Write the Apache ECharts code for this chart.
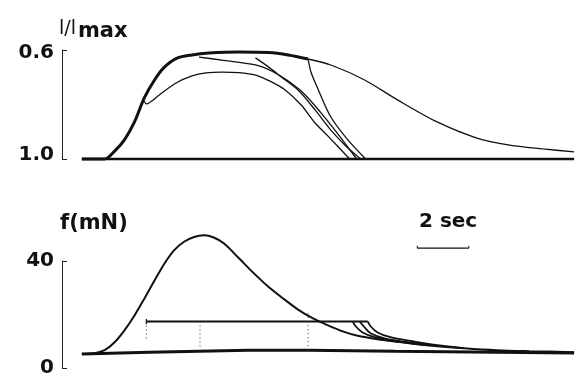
<!DOCTYPE html>
<html><head><meta charset="utf-8">
<script src="https://cdn.jsdelivr.net/npm/echarts@6/dist/echarts.min.js"></script>
<style>html,body{margin:0;padding:0;background:#fff}#c{width:578px;height:378px}</style>
</head><body><div id="c"></div>
<script>
// ---- data (time in s, length as l/lmax, force in mN) ----
const topTicks = [0.6, 1.0];
const botTicks = [0, 40];
const lenBaseline = [[0.77,1.0],[19.85,1.0]];
const lenMain = [[0.77,1.0],[1.65,1.0],[2.04,0.971],[2.42,0.930],[2.81,0.864],[3.19,0.776],[3.58,0.711],[3.96,0.664],[4.46,0.630],[5.04,0.618],[5.69,0.611],[6.85,0.607],[8.0,0.609],[8.77,0.618],[9.54,0.633]];
const lenRelax = [[9.54,0.633],[10.42,0.655],[11.73,0.710],[13.0,0.783],[14.54,0.864],[16.08,0.923],[17.35,0.949],[18.65,0.963],[19.85,0.974]];
const lenA = [[3.19,0.787],[3.27,0.798],[3.77,0.765],[4.42,0.721],[5.04,0.695],[5.58,0.684],[6.19,0.681],[6.85,0.683],[7.50,0.692],[8.12,0.717],[8.65,0.747],[9.27,0.802],[9.81,0.868],[10.31,0.916],[11.15,1.0]];
const lenB = [[5.31,0.626],[6.19,0.637],[7.50,0.655],[8.12,0.677],[8.77,0.714],[9.42,0.764],[10.04,0.831],[10.69,0.908],[11.42,1.0]];
const lenC = [[7.50,0.629],[8.0,0.662],[8.5,0.699],[9.15,0.747],[9.81,0.820],[10.42,0.894],[11.0,0.952],[11.58,1.0]];
const lenD = [[9.54,0.633],[9.65,0.681],[9.92,0.743],[10.42,0.846],[11.08,0.930],[11.77,1.0]];

const forceBaseline = [[0.77,5.19],[3.38,5.9],[7.23,6.67],[9.54,6.67],[12.92,6.3],[16.85,5.93],[19.85,5.6]];
const forceMain = [[0.77,5.19],[1.27,5.56],[1.65,6.67],[2.04,9.63],[2.42,14.07],[2.81,19.63],[3.19,25.93],[3.58,32.59],[3.96,38.89],[4.35,44.07],[4.73,47.2],[5.12,49.0],[5.5,49.6],[5.88,48.8],[6.27,46.6],[6.85,41.11],[7.42,35.56],[8.0,30.37],[8.58,25.93],[9.15,21.85],[9.73,18.52],[10.31,15.93],[10.88,13.70],[11.46,12.04],[12.23,10.74],[13.0,9.81],[14.15,8.52],[15.58,7.41],[16.85,6.67],[18.12,6.30],[19.85,5.93]];
const forceLoad = [[3.27,17.4],[11.85,17.4]];
const forceLoadTick = [[3.27,16.4],[3.27,18.3]];
const forceDrop1 = [[11.27,17.4],[11.38,15.6],[11.65,13.3],[12.12,11.5],[12.88,10.0],[14.27,8.45]];
const forceDrop2 = [[11.54,17.4],[11.73,15.2],[11.96,13.0],[12.5,11.1],[13.38,9.63],[14.27,8.45]];
const forceDrop3 = [[11.85,17.4],[11.96,15.6],[12.23,13.3],[12.73,11.5],[13.58,10.0],[14.54,8.5],[15.58,7.41]];
const markerTimes = [3.27, 5.35, 9.54];
const markerTop = [17.4, 17.4, 20.5];
const markerBottom = [10.0, 7.8, 6.3];
const scaleBarTimes = [13.77, 15.77];   // 2 sec
const scaleBarLevel = 44.8;
const scaleBarTickTop = 45.7;

const FONT = 'DejaVu Sans';
const INK = '#111';

function ln(data, g, w, extra) {
  return Object.assign({
    type: 'line', xAxisIndex: g, yAxisIndex: g, data: data,
    symbol: 'none', showSymbol: false, silent: true, animation: false,
    smooth: 0.3, clip: false,
    lineStyle: { color: INK, width: w }
  }, extra || {});
}

const series = [
  ln(lenBaseline, 0, 2.5, {smooth: false}),
  ln(lenMain, 0, 3),
  ln(lenRelax, 0, 1.3),
  ln(lenA, 0, 1.3),
  ln(lenB, 0, 1.3),
  ln(lenC, 0, 1.3),
  ln(lenD, 0, 1.3),
  ln(forceBaseline, 1, 3, {smooth: false}),
  ln(forceMain, 1, 2),
  ln(forceLoad, 1, 2, {smooth: false}),
  ln(forceLoadTick, 1, 1.2, {smooth: false}),
  ln(forceDrop1, 1, 1.8),
  ln(forceDrop2, 1, 1.8),
  ln(forceDrop3, 1, 1.8),
  ln(scaleBarTimes.map(t => [t, scaleBarLevel]), 1, 1.2, {smooth: false})
];
scaleBarTimes.forEach(t => {
  series.push(ln([[t, scaleBarLevel], [t, scaleBarTickTop]], 1, 1, {smooth: false}));
});
markerTimes.forEach((t, i) => {
  series.push(ln([[t, markerTop[i]], [t, markerBottom[i]]], 1, 1, {smooth: false, lineStyle: {color: '#333', width: 1, type: [1, 3]}}));
});

const labelFont = { fontFamily: FONT, fontWeight: 'bold', fontSize: 20, color: INK };
function yAx(g, min, max, ticks, inverse, fmt, rich) {
  return {
    gridIndex: g, type: 'value', min: min, max: max, inverse: inverse,
    axisLine: { show: true, onZero: false, lineStyle: { color: '#222', width: 1 } },
    axisTick: { show: true, inside: true, length: 5, customValues: ticks, lineStyle: { color: '#222', width: 1 } },
    axisLabel: Object.assign({ customValues: ticks, formatter: fmt, margin: 8, rich: rich || {} }, labelFont),
    splitLine: { show: false }
  };
}

const chart = echarts.init(document.getElementById('c'), null, { renderer: 'canvas' });
chart.setOption({
  backgroundColor: '#fff',
  animation: false,
  grid: [
    { left: 62, top: 50, width: 520, height: 109 },
    { left: 62, top: 261, width: 520, height: 108 }
  ],
  xAxis: [
    { gridIndex: 0, type: 'value', min: 0, max: 20, show: false },
    { gridIndex: 1, type: 'value', min: 0, max: 20, show: false }
  ],
  yAxis: [
    yAx(0, 0.6, 1.0, topTicks, true,
        v => (v < 0.8 ? '{lo|' : '{hi|') + v.toFixed(1) + '}',
        { lo: Object.assign({ padding: [6, 0, 0, 0] }, labelFont), hi: Object.assign({ padding: [0, 0, 8, 0] }, labelFont) }),
    yAx(1, 0, 40, botTicks, false, v => String(v))
  ],
  graphic: [
    { type: 'text', x: 59, y: 29, style: { text: '{a|l/l}{b|max}', verticalAlign: 'middle', rich: {
      a: { fontFamily: FONT, fontSize: 19, fontWeight: 'normal', fill: INK },
      b: { fontFamily: FONT, fontSize: 21, fontWeight: 'bold', fill: INK, padding: [5, 0, 0, 2] } } } },
    { type: 'text', x: 60, y: 224, style: { text: 'f(mN)', font: 'bold 21px "DejaVu Sans"', fill: INK, verticalAlign: 'middle' } },
    { type: 'text', x: 419, y: 222, style: { text: '2 sec', font: 'bold 20px "DejaVu Sans"', fill: INK, verticalAlign: 'middle' } }
  ],
  series: series
});
</script></body></html>
